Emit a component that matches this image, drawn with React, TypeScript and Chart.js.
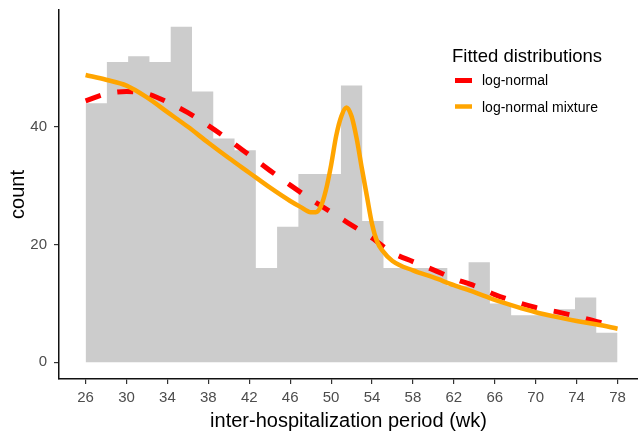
import React, { useEffect, useRef } from "react";
import { Chart, registerables } from "chart.js";

Chart.register(...registerables);

// ---- data ----
const binStart = 26;
const binEnd = 78;
const binCounts = [44, 51, 52, 51, 57, 46, 38, 36, 16, 23, 32, 32, 47, 24, 16, 16, 16, 13, 17, 10, 8, 8, 9, 11, 5];

const xTicks = [26, 30, 34, 38, 42, 46, 50, 54, 58, 62, 66, 70, 74, 78];
const yTicks = [0, 20, 40];

const logNormalX = [26, 28, 30, 32, 34, 36, 38, 40, 42, 44, 46, 48, 50, 52, 54, 56, 58, 60, 62, 64, 66, 68, 70, 72, 74, 76, 78];
const logNormalY = [44.4, 45.6, 46.0, 45.6, 44.2, 42.4, 40.2, 37.8, 35.2, 32.6, 30.1, 27.7, 25.5, 23.3, 21.1, 18.6, 17.1, 15.7, 14.2, 13.0, 11.5, 10.3, 9.3, 8.6, 7.8, 6.9, 6.1];

const mixtureX = [26, 28, 30, 32, 34, 36, 38, 40, 42, 44, 46, 47, 48, 48.5, 49, 49.5, 50, 50.5, 51, 51.5, 52, 52.5, 53, 53.5, 54, 54.5, 55, 56, 58, 60, 62, 64, 66, 68, 70, 72, 74, 76, 78];
const mixtureY = [48.8, 48.0, 47.0, 45.0, 42.5, 40.0, 37.3, 34.7, 32.2, 29.7, 27.4, 26.4, 25.5, 25.5, 26.5, 29.3, 33.5, 38.5, 41.8, 43.3, 41.8, 38.0, 33.0, 28.2, 23.5, 20.5, 19.0, 17.2, 15.6, 14.4, 13.1, 11.9, 10.6, 9.5, 8.5, 7.7, 7.0, 6.4, 5.7];

const legendTitle = "Fitted distributions";
const seriesNames = ["log-normal", "log-normal mixture"];
const xTitle = "inter-hospitalization period (wk)";
const yTitle = "count";

const FONT = "'Liberation Sans', Arial, Helvetica, sans-serif";
const RED = "#FF0000";
const ORANGE = "#FFA500";
const BAR = "#CCCCCC";

const legendPlugin = {
  id: "customLegend",
  afterDraw(chart: any) {
    const ctx = chart.ctx;
    ctx.save();
    ctx.fillStyle = "#000";
    ctx.textAlign = "left";
    ctx.textBaseline = "alphabetic";
    ctx.font = `18.5px ${FONT}`;
    ctx.fillText(legendTitle, 452, 62);
    const items = [
      { label: seriesNames[0], color: RED, width: 5, y: 80.5, ty: 81 },
      { label: seriesNames[1], color: ORANGE, width: 4.5, y: 106.5, ty: 108 },
    ];
    ctx.font = `14px ${FONT}`;
    ctx.textBaseline = "middle";
    for (const it of items) {
      ctx.beginPath();
      ctx.strokeStyle = it.color;
      ctx.lineWidth = it.width;
      ctx.lineCap = "butt";
      ctx.moveTo(455, it.y);
      ctx.lineTo(472, it.y);
      ctx.stroke();
      ctx.fillStyle = "#000";
      ctx.fillText(it.label, 482, it.ty);
    }
    ctx.restore();
  },
};

export default function App() {
  const ref = useRef<HTMLCanvasElement | null>(null);

  useEffect(() => {
    if (!ref.current) return;
    const binWidth = (binEnd - binStart) / binCounts.length;
    const histData = binCounts.map((c, i) => ({ x: binStart + i * binWidth, y: c }));
    histData.push({ x: binEnd, y: binCounts[binCounts.length - 1] });

    const chart = new Chart(ref.current, {
      type: "line",
      data: {
        datasets: [
          {
            label: seriesNames[1],
            data: mixtureX.map((x, i) => ({ x, y: mixtureY[i] })),
            borderColor: ORANGE,
            borderWidth: 4.5,
            pointRadius: 0,
            cubicInterpolationMode: "monotone",
            fill: false,
            order: 1,
          },
          {
            label: seriesNames[0],
            data: logNormalX.map((x, i) => ({ x, y: logNormalY[i] })),
            borderColor: RED,
            borderWidth: 5,
            borderDash: [16, 17],
            borderCapStyle: "butt",
            pointRadius: 0,
            cubicInterpolationMode: "monotone",
            fill: false,
            order: 2,
          },
          {
            label: yTitle,
            data: histData,
            stepped: "before",
            fill: "origin",
            backgroundColor: BAR,
            borderColor: "rgba(0,0,0,0)",
            borderWidth: 0,
            pointRadius: 0,
            order: 3,
          },
        ] as any,
      },
      options: {
        animation: false,
        responsive: false,
        maintainAspectRatio: false,
        layout: { padding: { top: 10, left: 0, right: 0, bottom: 0 } },
        plugins: { legend: { display: false }, tooltip: { enabled: false } },
        scales: {
          x: {
            type: "linear",
            min: 23.4,
            max: 80,
            afterBuildTicks: (s: any) => {
              s.ticks = xTicks.map((v) => ({ value: v }));
            },
            afterFit: (s: any) => {
              s.height = 56;
              s.paddingLeft = 0;
              s.paddingRight = 0;
            },
            grid: { drawOnChartArea: false, drawTicks: true, tickLength: 5, color: "#333", lineWidth: 1.2 },
            border: { display: true, color: "#111", width: 1.5 },
            ticks: { font: { family: FONT, size: 15 }, color: "#4D4D4D", padding: 5, maxRotation: 0, autoSkip: false },
            title: { display: true, text: xTitle, font: { family: FONT, size: 20 }, color: "#000", padding: { top: 0, bottom: 2 } },
          },
          y: {
            type: "linear",
            min: -2.85,
            max: 59.85,
            afterBuildTicks: (s: any) => {
              s.ticks = yTicks.map((v) => ({ value: v }));
            },
            afterFit: (s: any) => {
              s.width = 59;
              s.paddingTop = 0;
              s.paddingBottom = 0;
            },
            grid: { drawOnChartArea: false, drawTicks: true, tickLength: 5, color: "#333", lineWidth: 1.2 },
            border: { display: true, color: "#111", width: 1.5 },
            ticks: { font: { family: FONT, size: 15 }, color: "#4D4D4D", padding: 7 },
            title: { display: true, text: yTitle, font: { family: FONT, size: 20 }, color: "#000", padding: { top: 6, bottom: 0 } },
          },
        },
      } as any,
      plugins: [legendPlugin],
    });
    return () => chart.destroy();
  }, []);

  return (
    <div style={{ position: "absolute", left: 0, top: 0, width: 638, height: 435, background: "#fff" }}>
      <canvas ref={ref} width={638} height={435} style={{ display: "block" }} />
    </div>
  );
}
